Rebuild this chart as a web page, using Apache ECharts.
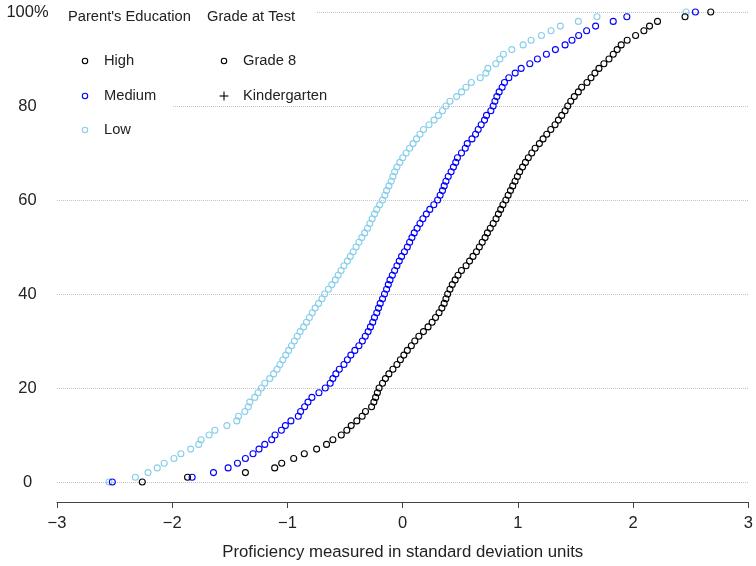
<!DOCTYPE html>
<html>
<head>
<meta charset="utf-8">
<script src="https://cdn.jsdelivr.net/npm/echarts@6/dist/echarts.min.js"></script>
<style>html,body{margin:0;padding:0;background:#fff}#c{width:756px;height:566px}</style>
</head>
<body>
<div id="c"></div>
<script>
const percentiles = [0,1,2,3,4,5,6,7,8,9,10,11,12,13,14,15,16,17,18,19,20,21,22,23,24,25,26,27,28,29,30,31,32,33,34,35,36,37,38,39,40,41,42,43,44,45,46,47,48,49,50,51,52,53,54,55,56,57,58,59,60,61,62,63,64,65,66,67,68,69,70,71,72,73,74,75,76,77,78,79,80,81,82,83,84,85,86,87,88,89,90,91,92,93,94,95,96,97,98,99,100];

const lowX = [-2.548,-2.32,-2.21,-2.13,-2.07,-1.985,-1.925,-1.84,-1.77,-1.75,
-1.68,-1.63,-1.526,-1.44,-1.425,-1.37,-1.34,-1.327,-1.284,-1.255,
-1.226,-1.197,-1.154,-1.12,-1.09,-1.065,-1.04,-1.015,-0.99,-0.965,
-0.94,-0.915,-0.89,-0.86,-0.835,-0.81,-0.785,-0.76,-0.73,-0.70,
-0.678,-0.645,-0.615,-0.585,-0.56,-0.535,-0.51,-0.48,-0.455,-0.43,
-0.405,-0.38,-0.355,-0.33,-0.305,-0.285,-0.265,-0.245,-0.225,-0.2,
-0.175,-0.155,-0.14,-0.12,-0.1,-0.085,-0.07,-0.05,-0.025,0.0,
0.03,0.06,0.09,0.12,0.15,0.18,0.228,0.272,0.31,0.345,
0.375,0.41,0.468,0.511,0.549,0.595,0.673,0.722,0.739,0.808,
0.843,0.874,0.947,1.045,1.114,1.204,1.287,1.368,1.524,1.686,
2.459];

const mediumX = [-2.52,-1.827,-1.642,-1.515,-1.434,-1.365,-1.299,-1.247,-1.197,-1.137,
-1.108,-1.053,-1.018,-0.97,-0.906,-0.886,-0.851,-0.822,-0.788,-0.727,
-0.672,-0.629,-0.606,-0.58,-0.55,-0.51,-0.48,-0.45,-0.415,-0.38,
-0.35,-0.325,-0.30,-0.28,-0.26,-0.245,-0.225,-0.21,-0.195,-0.175,
-0.158,-0.14,-0.125,-0.11,-0.09,-0.07,-0.05,-0.03,-0.01,0.015,
0.04,0.06,0.08,0.10,0.125,0.15,0.175,0.205,0.235,0.27,
0.303,0.325,0.345,0.36,0.375,0.395,0.42,0.44,0.46,0.475,
0.51,0.543,0.56,0.601,0.632,0.655,0.681,0.71,0.727,0.765,
0.785,0.8,0.817,0.837,0.863,0.883,0.921,0.976,1.028,1.103,
1.169,1.247,1.325,1.409,1.469,1.527,1.596,1.674,1.827,1.945,
2.54];

const highX = [-2.26,-1.867,-1.365,-1.111,-1.05,-0.946,-0.854,-0.747,-0.661,-0.606,
-0.533,-0.485,-0.447,-0.398,-0.352,-0.323,-0.27,-0.25,-0.235,-0.22,
-0.205,-0.175,-0.15,-0.12,-0.085,-0.05,-0.02,0.01,0.04,0.075,
0.105,0.14,0.18,0.22,0.255,0.285,0.315,0.34,0.36,0.375,
0.39,0.41,0.43,0.455,0.48,0.51,0.55,0.58,0.61,0.64,
0.665,0.69,0.715,0.735,0.76,0.785,0.81,0.83,0.85,0.87,
0.895,0.915,0.935,0.955,0.975,0.995,1.015,1.04,1.065,1.09,
1.12,1.149,1.186,1.218,1.25,1.285,1.322,1.351,1.38,1.409,
1.432,1.458,1.489,1.524,1.553,1.599,1.634,1.668,1.703,1.746,
1.79,1.827,1.861,1.896,1.948,2.021,2.093,2.142,2.211,2.45,
2.673];

const xTicks = [-3,-2,-1,0,1,2,3];
const yTicks = [0,20,40,60,80,100];
const educationLevels = ['High','Medium','Low'];
const gradeLevels = ['Grade 8','Kindergarten'];
const legendTitles = ["Parent's Education","Grade at Test"];
const xTitle = 'Proficiency measured in standard deviation units';

const colors = {High:'#000000', Medium:'#0000FF', Low:'#87CEEB'};
const valuesBy = {High: highX, Medium: mediumX, Low: lowX};

function pairs(xs){ return xs.map((v,i)=>[v, percentiles[i]]); }

const chart = echarts.init(document.getElementById('c'), null, {renderer:'canvas'});
const FONT = 'Liberation Sans, Arial, sans-serif';

const series = ['Low','Medium','High'].map(name => ({
  name: name,
  type: 'scatter',
  data: pairs(valuesBy[name]),
  symbol: 'circle',
  symbolSize: 6,
  itemStyle: {color: 'rgba(0,0,0,0)', borderColor: colors[name], borderWidth: 1.1, opacity: 1},
  emphasis: {disabled: true},
  z: 3
}));

const legendGraphic = [
  {type:'rect', shape:{x:57, y:0, width:115, height:148}, style:{fill:'#fff'}, z:1, silent:true},
  {type:'rect', shape:{x:172, y:0, width:145, height:100}, style:{fill:'#fff'}, z:1, silent:true},
  {type:'text', x:68, y:17, style:{text:legendTitles[0], font:'14.7px '+FONT, fill:'#222', textVerticalAlign:'middle'}, z:4},
  {type:'text', x:207, y:17, style:{text:legendTitles[1], font:'14.7px '+FONT, fill:'#222', textVerticalAlign:'middle'}, z:4}
];
const rowY = [61, 96, 130];
educationLevels.forEach((n,i)=>{
  legendGraphic.push({type:'circle', shape:{cx:85, cy:rowY[i], r:2.7}, style:{fill:'none', stroke:colors[n], lineWidth:1.1}, z:4});
  legendGraphic.push({type:'text', x:104, y:rowY[i], style:{text:n, font:'14.7px '+FONT, fill:'#222', textVerticalAlign:'middle'}, z:4});
});
legendGraphic.push({type:'circle', shape:{cx:224, cy:rowY[0], r:2.7}, style:{fill:'none', stroke:'#000', lineWidth:1.1}, z:4});
legendGraphic.push({type:'text', x:243, y:rowY[0], style:{text:gradeLevels[0], font:'14.7px '+FONT, fill:'#222', textVerticalAlign:'middle'}, z:4});
legendGraphic.push({type:'line', shape:{x1:219.5, y1:rowY[1], x2:228.5, y2:rowY[1]}, style:{stroke:'#000', lineWidth:1.1}, z:4});
legendGraphic.push({type:'line', shape:{x1:224, y1:rowY[1]-4.5, x2:224, y2:rowY[1]+4.5}, style:{stroke:'#000', lineWidth:1.1}, z:4});
legendGraphic.push({type:'text', x:243, y:rowY[1], style:{text:gradeLevels[1], font:'14.7px '+FONT, fill:'#222', textVerticalAlign:'middle'}, z:4});

const option = {
  backgroundColor: '#fff',
  animation: false,
  grid: {left: 57, right: 6, top: 12, bottom: 80.7, containLabel: false},
  xAxis: {
    type: 'value',
    min: xTicks[0], max: xTicks[xTicks.length-1], interval: 1,
    offset: 20,
    name: xTitle, nameLocation: 'middle', nameGap: 42,
    nameTextStyle: {fontSize: 16.8, color: '#222', fontFamily: FONT},
    axisLine: {show: true, onZero: false, lineStyle: {color: '#444', width: 1}},
    axisTick: {show: true, length: 6, lineStyle: {color: '#444', width: 1}},
    axisLabel: {fontSize: 16.5, color: '#222', fontFamily: FONT, margin: 13,
      formatter: v => v < 0 ? '\u2212' + Math.abs(v) : String(v)},
    splitLine: {show: false}
  },
  yAxis: {
    type: 'value',
    min: yTicks[0], max: yTicks[yTicks.length-1], interval: 20,
    axisLine: {show: false},
    axisTick: {show: false},
    axisLabel: {fontSize: 16.5, color: '#222', fontFamily: FONT, margin: 29.5, align: 'center',
      formatter: v => v === 100 ? '100%' : String(v)},
    splitLine: {show: true, lineStyle: {color: '#c4c4c4', type: 'dotted', width: 1}}
  },
  graphic: legendGraphic,
  series: series
};
chart.setOption(option);
</script>
</body>
</html>
